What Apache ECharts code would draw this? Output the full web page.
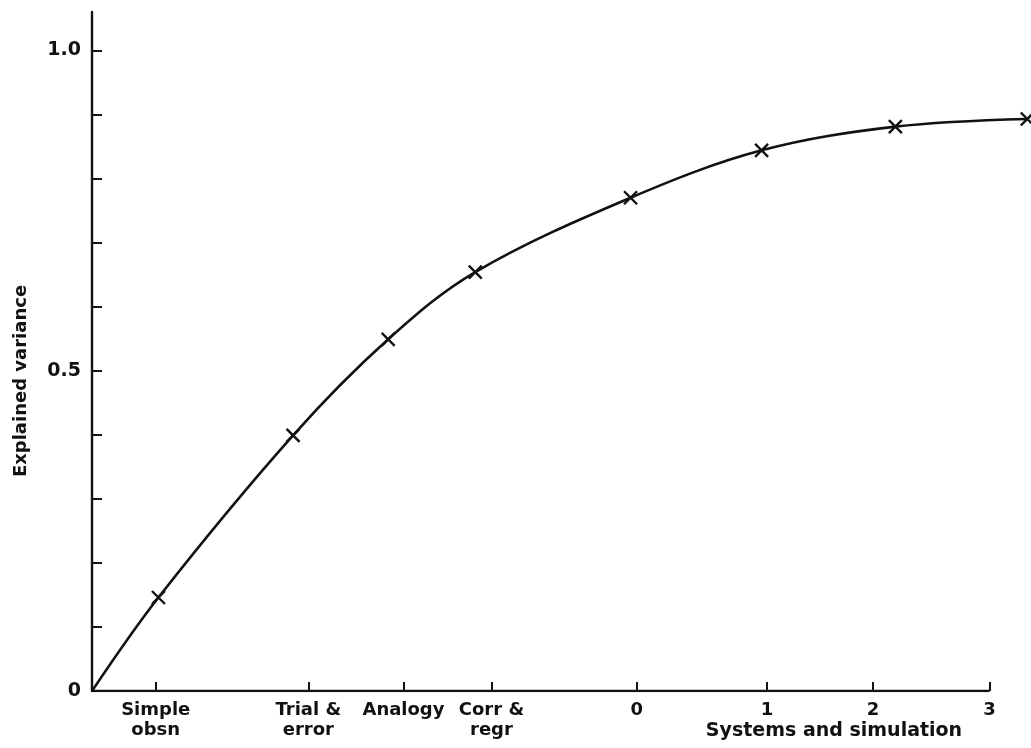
<!DOCTYPE html>
<html>
<head>
<meta charset="utf-8">
<script src="https://cdn.jsdelivr.net/npm/echarts@6/dist/echarts.min.js"></script>
<style>
  html, body { margin: 0; padding: 0; background: #fff; }
  #chart { width: 1031px; height: 748px; }
</style>
</head>
<body>
<div id="chart"></div>
<script>
// Stage position along the x axis (arbitrary scale, "3" = 100)
const tickPositions = [7.1, 24.1, 34.7, 44.5, 60.7, 75.2, 87.0, 100];
const tickLabels = ['Simple\nobsn', 'Trial &\nerror', 'Analogy', 'Corr &\nregr', '0', '1', '2', '3'];
// Curve points (first one is the origin, drawn without a marker)
const pointX = [0, 7.4, 22.4, 33.0, 42.7, 60.0, 74.6, 89.5, 104.2];
const explainedVariance = [0, 0.146, 0.399, 0.549, 0.654, 0.770, 0.844, 0.881, 0.893];
const yTicks = [0, 0.1, 0.2, 0.3, 0.4, 0.5, 0.6, 0.7, 0.8, 0.9, 1.0];
const yLabels = [0, 0.5, 1.0];
const axisEnd = 100; // the drawn x axis stops at "3"
const yAxisTitle = 'Explained variance';
const groupTitle = 'Systems and simulation';

const FONT = 'DejaVu Sans';
const INK = '#111';

const chart = echarts.init(document.getElementById('chart'), null, { renderer: 'canvas' });

const data = pointX.map((x, i) => i === 0
  ? { value: [x, explainedVariance[i]], symbol: 'none' }
  : { value: [x, explainedVariance[i]] });

chart.setOption({
  animation: false,
  backgroundColor: '#fff',
  grid: { left: 92, right: 1, top: 12, bottom: 57, containLabel: false, outerBoundsMode: 'none' },
  xAxis: {
    type: 'value',
    min: 0,
    max: 104.5,
    splitLine: { show: false },
    axisLine: { show: false },
    axisTick: { show: true, inside: true, length: 9, customValues: tickPositions, lineStyle: { color: INK, width: 2 } },
    axisLabel: {
      show: true,
      customValues: tickPositions,
      margin: 9,
      color: INK,
      fontFamily: FONT,
      fontWeight: 'bold',
      fontSize: 18,
      lineHeight: 20,
      formatter: function (v) {
        const i = tickPositions.findIndex(t => Math.abs(t - v) < 1e-6);
        return i >= 0 ? tickLabels[i] : '';
      }
    }
  },
  yAxis: {
    type: 'value',
    min: 0,
    max: 1.06,
    splitLine: { show: false },
    axisLine: { show: true, onZero: false, lineStyle: { color: INK, width: 2.4 } },
    axisTick: { show: true, inside: true, length: 10, customValues: yTicks, lineStyle: { color: INK, width: 2 } },
    axisLabel: {
      show: true,
      customValues: yLabels,
      margin: 11,
      color: INK,
      fontFamily: FONT,
      fontWeight: 'bold',
      fontSize: 19,
      formatter: function (v) {
        if (Math.abs(v) < 1e-9) return '0';
        return v.toFixed(1);
      }
    }
  },
  graphic: [
    {
      type: 'text',
      x: 21, y: 381,
      rotation: Math.PI / 2,
      style: { text: yAxisTitle, fill: INK, font: 'bold 18px "DejaVu Sans"', align: 'center', verticalAlign: 'middle' }
    },
    {
      type: 'text',
      x: 834, y: 731,
      style: { text: groupTitle, fill: INK, font: 'bold 19px "DejaVu Sans"', align: 'center', verticalAlign: 'middle' }
    }
  ],
  series: [
    {
      // x axis line, drawn from the origin to the "3" tick only
      type: 'line',
      data: [[0, 0], [axisEnd, 0]],
      symbol: 'none',
      silent: true,
      lineStyle: { color: INK, width: 2.4 },
      z: 1
    },
    {
      type: 'line',
      data: data,
      smooth: 0.35,
      clip: false,
      symbol: 'path://M0,0L10,10M10,0L0,10',
      symbolSize: 13,
      showSymbol: true,
      lineStyle: { color: INK, width: 2.6 },
      itemStyle: { color: INK, borderColor: INK, borderWidth: 2.4 },
      z: 2
    }
  ]
});
</script>
</body>
</html>
